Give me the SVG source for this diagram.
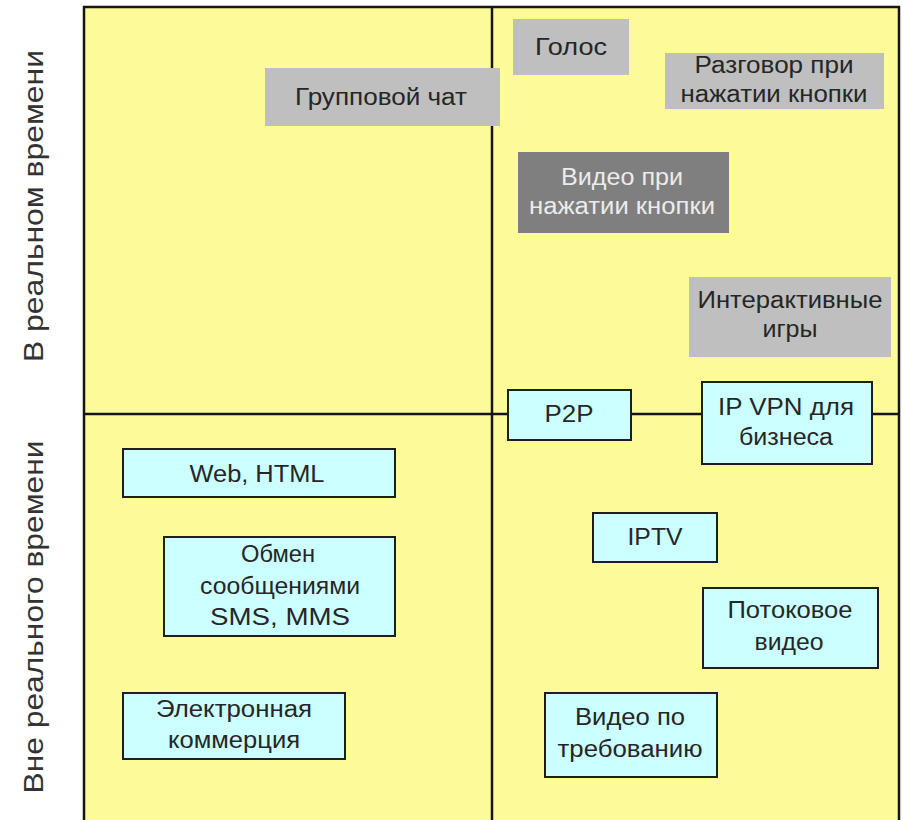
<svg xmlns="http://www.w3.org/2000/svg" width="903" height="820" viewBox="0 0 903 820">
<style>
text{font-family:"Liberation Sans",Arial,sans-serif;text-anchor:middle}
.t{font-size:23px;fill:#262626}
.w{font-size:23px;fill:#ececec}
.ax{font-size:28px;fill:#333}
.g1{fill:#bfbfbf}
.g2{fill:#7f7f7f}
.c{fill:#ccffff;stroke:#1e1e1e;stroke-width:2}
.ln{stroke:#141414;stroke-width:2.5;fill:none}
</style>
<rect x="0" y="0" width="903" height="820" fill="#ffffff"/>
<rect x="84" y="7" width="815" height="830" fill="#fdfb98"/>
<g id="connectors">
<rect class="ln" x="84" y="7" width="815" height="830"/>
<line class="ln" x1="492" y1="7" x2="492" y2="820"/>
<line class="ln" x1="84" y1="414" x2="899" y2="414"/>
</g>
<g id="label-realtime"><text class="ax" transform="translate(43,206) rotate(-90)" textLength="312" lengthAdjust="spacingAndGlyphs">В реальном времени</text></g>
<g id="label-nonrealtime"><text class="ax" transform="translate(43,617) rotate(-90)" textLength="353" lengthAdjust="spacingAndGlyphs">Вне реального времени</text></g>
<g id="n-group-chat"><rect class="g1" x="265" y="68" width="235" height="58"/><text class="t" x="381" y="105" textLength="172" lengthAdjust="spacingAndGlyphs">Групповой чат</text></g>
<g id="n-voice"><rect class="g1" x="513" y="19" width="116" height="56"/><text class="t" x="571" y="55" textLength="72" lengthAdjust="spacingAndGlyphs">Голос</text></g>
<g id="n-ptt"><rect class="g1" x="665" y="53" width="219" height="56"/><text class="t" x="774" y="73" textLength="159" lengthAdjust="spacingAndGlyphs">Разговор при</text><text class="t" x="774" y="102" textLength="187" lengthAdjust="spacingAndGlyphs">нажатии кнопки</text></g>
<g id="n-ptv"><rect class="g2" x="518" y="152" width="211" height="81"/><text class="w" x="622" y="185" textLength="122" lengthAdjust="spacingAndGlyphs">Видео при</text><text class="w" x="622" y="214" textLength="186" lengthAdjust="spacingAndGlyphs">нажатии кнопки</text></g>
<g id="n-games"><rect class="g1" x="689" y="277" width="202" height="80"/><text class="t" x="790" y="308" textLength="185" lengthAdjust="spacingAndGlyphs">Интерактивные</text><text class="t" x="790" y="337" textLength="55" lengthAdjust="spacingAndGlyphs">игры</text></g>
<g id="n-p2p"><rect class="c" x="508" y="390" width="123" height="50"/><text class="t" x="569" y="422" textLength="49" lengthAdjust="spacingAndGlyphs">P2P</text></g>
<g id="n-ipvpn"><rect class="c" x="702" y="382" width="170" height="82"/><text class="t" x="786" y="415" textLength="136" lengthAdjust="spacingAndGlyphs">IP VPN для</text><text class="t" x="786" y="445" textLength="94" lengthAdjust="spacingAndGlyphs">бизнеса</text></g>
<g id="n-web"><rect class="c" x="123" y="449" width="272" height="48"/><text class="t" x="257" y="482" textLength="135" lengthAdjust="spacingAndGlyphs">Web, HTML</text></g>
<g id="n-msg"><rect class="c" x="164" y="537" width="231" height="99"/><text class="t" x="278" y="562" textLength="74" lengthAdjust="spacingAndGlyphs">Обмен</text><text class="t" x="280" y="594" textLength="160" lengthAdjust="spacingAndGlyphs">сообщениями</text><text class="t" x="280" y="625" textLength="140" lengthAdjust="spacingAndGlyphs">SMS, MMS</text></g>
<g id="n-ecom"><rect class="c" x="123" y="693" width="222" height="66"/><text class="t" x="234" y="717" textLength="156" lengthAdjust="spacingAndGlyphs">Электронная</text><text class="t" x="234" y="748" textLength="132" lengthAdjust="spacingAndGlyphs">коммерция</text></g>
<g id="n-iptv"><rect class="c" x="593" y="513" width="124" height="49"/><text class="t" x="655" y="545" textLength="55" lengthAdjust="spacingAndGlyphs">IPTV</text></g>
<g id="n-stream"><rect class="c" x="703" y="588" width="175" height="80"/><text class="t" x="790" y="618" textLength="125" lengthAdjust="spacingAndGlyphs">Потоковое</text><text class="t" x="789" y="650" textLength="69" lengthAdjust="spacingAndGlyphs">видео</text></g>
<g id="n-vod"><rect class="c" x="545" y="693" width="172" height="84"/><text class="t" x="630" y="725" textLength="110" lengthAdjust="spacingAndGlyphs">Видео по</text><text class="t" x="630" y="757" textLength="145" lengthAdjust="spacingAndGlyphs">требованию</text></g>
</svg>
